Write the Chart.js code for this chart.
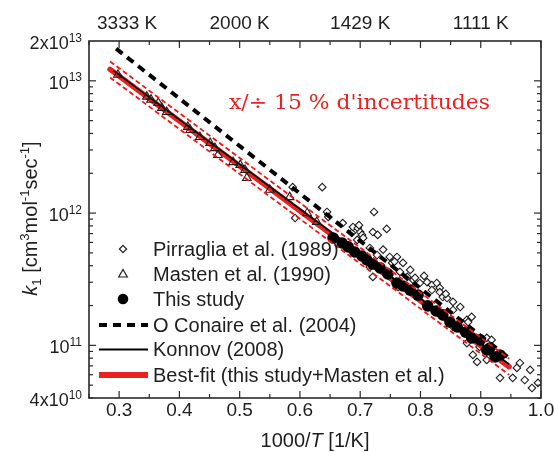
<!DOCTYPE html>
<html><head><meta charset="utf-8">
<script src="https://cdn.jsdelivr.net/npm/chart.js@4.4.0/dist/chart.umd.min.js"></script>
<style>html,body{margin:0;padding:0;background:#fff;overflow:hidden}</style>
</head><body>
<canvas id="c" width="554" height="452"></canvas>
<script>
// ---- data (x = 1000/T [1/K], k1 [cm3 mol-1 s-1]) ----
const pirragliaX = [0.588,0.592,0.637,0.645,0.647,0.671,0.686,0.688,0.695,0.696,0.698,0.700,0.703,0.705,0.716,0.716,0.721,0.721,0.723,0.728,0.729,0.744,0.749,0.753,0.761,0.763,0.766,0.771,0.778,0.783,0.788,0.791,0.799,0.811,0.819,0.819,0.827,0.832,0.832,0.837,0.844,0.854,0.854,0.854,0.877,0.877,0.879,0.885,0.887,0.894,0.898,0.910,0.910,0.918,0.920,0.932,0.937,0.953,0.960,0.965,0.973,0.982,0.985,0.995,0.738,0.757,0.806,0.842,0.866];
const pirragliaK = [1.57e12,9.18e11,1.57e12,1.02e12,9.35e11,8.41e11,7.08e11,7.85e11,6.27e11,7.71e11,8.1e11,7.19e11,6.84e11,6.49e11,5.45e11,3.92e11,7.19e11,3.29e11,1.02e12,4.82e11,6.84e11,7.59e11,4.66e11,4.20e11,4.66e11,2.76e11,3.59e11,4.20e11,3.29e11,3.72e11,3.12e11,3.24e11,2.96e11,3.01e11,2.86e11,2.62e11,2.96e11,2.72e11,2.53e11,2.32e11,2.28e11,2.13e11,1.85e11,1.38e11,1.56e11,1.04e11,1.50e11,1.64e11,8.47e10,7.50e10,9.73e10,1.14e11,7.76e10,1.10e11,8.47e10,5.68e10,8.47e10,5.68e10,6.75e10,7.36e10,5.47e10,6.52e10,4.76e10,5.20e10,5.3e11,4.3e11,3.35e11,2.45e11,1.95e11];

const mastenX = [0.298,0.346,0.353,0.365,0.371,0.379,0.414,0.418,0.434,0.451,0.459,0.464,0.489,0.501,0.509,0.512,0.550,0.583,0.612,0.628];
const mastenK = [1.11e13,7.59e12,7.2e12,6.80e12,6.24e12,5.81e12,4.48e12,4.25e12,3.76e12,3.39e12,3.10e12,2.75e12,2.43e12,2.31e12,2.12e12,1.84e12,1.50e12,1.32e12,1.00e12,8.57e11];

const studyX = [0.655,0.670,0.680,0.691,0.703,0.711,0.721,0.733,0.746,0.761,0.771,0.783,0.796,0.812,0.826,0.837,0.849,0.861,0.875,0.885,0.899,0.910,0.915,0.924,0.932];
const studyK = [6.49e11,5.94e11,5.55e11,5.08e11,4.74e11,4.43e11,4.12e11,3.85e11,3.47e11,2.96e11,2.81e11,2.62e11,2.40e11,1.99e11,1.82e11,1.70e11,1.50e11,1.38e11,1.26e11,1.14e11,1.10e11,9.23e10,9.55e10,8.17e10,8.45e10];

const oconaireX = [0.295, 0.950];
const oconaireK = [1.75e13, 7.8e10];
const konnovX = [0.290, 0.947];
const konnovK = [1.20e13, 7.2e10];
const bestFitX = [0.285, 0.947];
const bestFitK = [1.22e13, 6.9e10];
const bandUpperK = [1.40e13, 7.94e10];
const bandLowerK = [1.06e13, 6.00e10];

// ---- axes / labels ----
const xMajorTicks = [0.3,0.4,0.5,0.6,0.7,0.8,0.9,1.0];
const xMajorLabels = ['0.3','0.4','0.5','0.6','0.7','0.8','0.9','1.0'];
const xMinorTicks = [0.25,0.35,0.45,0.55,0.65,0.75,0.85,0.95];
const topLabelX = [0.3,0.5,0.7,0.9];
const topLabels = ['3333 K','2000 K','1429 K','1111 K'];
const yMajorTicks = [1e11,1e12,1e13];
const yMinorTicks = [4e10,5e10,6e10,7e10,8e10,9e10,2e11,3e11,4e11,5e11,6e11,7e11,8e11,9e11,2e12,3e12,4e12,5e12,6e12,7e12,8e12,9e12];
const yLabelValues = [2e13,1e13,1e12,1e11,4e10];
const yLabelBase = ['2x10','10','10','10','4x10'];
const yLabelExp = ['13','13','12','11','10'];
const legendLabels = ['Pirraglia et al. (1989)','Masten et al. (1990)','This study','O Conaire et al. (2004)','Konnov (2008)','Best-fit (this study+Masten et al.)'];
const noteText = 'x/\u00f7 15 % d\'incertitudes';

const pts = (xs, ys) => xs.map((x, i) => ({x: x, y: ys[i]}));
const RED = '#e8231f';
const INK = '#1e1e1e';
const SANS = '"Liberation Sans", Arial, sans-serif';

function lineDs(label, xs, ys, color, width, dash, order, cap) {
  return {label, data: pts(xs, ys), showLine: true, pointRadius: 0, borderColor: color,
    backgroundColor: color, borderWidth: width, borderDash: dash || [], fill: false,
    borderCapStyle: cap || 'butt', order};
}

const deco = {
  id: 'deco',
  afterDatasetsDraw(chart) {
    const {ctx, chartArea: a, scales: {x, y}} = chart;
    ctx.save();
    ctx.strokeStyle = '#2a2a2a';
    ctx.lineWidth = 1.2;
    const seg = (x1, y1, x2, y2) => { ctx.beginPath(); ctx.moveTo(x1, y1); ctx.lineTo(x2, y2); ctx.stroke(); };
    xMajorTicks.forEach(v => { const p = x.getPixelForValue(v); seg(p, a.bottom, p, a.bottom - 7); seg(p, a.top, p, a.top + 7); });
    xMinorTicks.forEach(v => { const p = x.getPixelForValue(v); seg(p, a.bottom, p, a.bottom - 4); seg(p, a.top, p, a.top + 4); });
    yMajorTicks.forEach(v => { const p = y.getPixelForValue(v); seg(a.left, p, a.left + 7, p); seg(a.right, p, a.right - 7, p); });
    yMinorTicks.forEach(v => { const p = y.getPixelForValue(v); seg(a.left, p, a.left + 4, p); seg(a.right, p, a.right - 4, p); });
    ctx.lineWidth = 1.6;
    ctx.strokeRect(a.left, a.top, a.right - a.left, a.bottom - a.top);

    ctx.fillStyle = INK;
    ctx.textBaseline = 'alphabetic';
    // bottom tick labels
    ctx.font = '19px ' + SANS; ctx.textAlign = 'center';
    xMajorTicks.forEach((v, i) => ctx.fillText(xMajorLabels[i], x.getPixelForValue(v), a.bottom + 18));
    // top labels
    topLabelX.forEach((v, i) => ctx.fillText(topLabels[i], x.getPixelForValue(v) + (i === 0 ? 8 : 0), a.top - 12));
    // y labels with superscripts
    ctx.textAlign = 'left';
    yLabelValues.forEach((v, i) => {
      const yc = y.getPixelForValue(v);
      const xr = a.left - 7;
      ctx.font = '12px ' + SANS; const ws = ctx.measureText(yLabelExp[i]).width;
      ctx.font = '18px ' + SANS; const wb = ctx.measureText(yLabelBase[i]).width;
      ctx.fillText(yLabelBase[i], xr - ws - wb, yc + 8);
      ctx.font = '12px ' + SANS; ctx.fillText(yLabelExp[i], xr - ws, yc + 0.5);
    });
    // x title
    const parts = [['1000/', '20px ' + SANS], ['T', 'italic 20px ' + SANS], [' [1/K]', '20px ' + SANS]];
    let tw = 0; parts.forEach(p => { ctx.font = p[1]; tw += ctx.measureText(p[0]).width; });
    let cx = (a.left + a.right) / 2 - tw / 2;
    parts.forEach(p => { ctx.font = p[1]; ctx.fillText(p[0], cx, 447); cx += ctx.measureText(p[0]).width; });
    // y title (rotated)
    const yp = [['k', 'italic 20px ' + SANS, 0], ['1', '13px ' + SANS, 4], [' [cm', '20px ' + SANS, 0], ['3', '13px ' + SANS, -8],
      ['mol', '20px ' + SANS, 0], ['-1', '13px ' + SANS, -8], ['sec', '20px ' + SANS, 0], ['-1', '13px ' + SANS, -8], [']', '20px ' + SANS, 0]];
    let yw = 0; yp.forEach(p => { ctx.font = p[1]; yw += ctx.measureText(p[0]).width; });
    ctx.save();
    ctx.translate(37, (a.top + a.bottom) / 2 - 1);
    ctx.rotate(-Math.PI / 2);
    let ox = -yw / 2;
    yp.forEach(p => { ctx.font = p[1]; ctx.fillText(p[0], ox, p[2]); ox += ctx.measureText(p[0]).width; });
    ctx.restore();

    // legend
    const lx = 153, rows = [249, 274, 299, 325, 349.5, 375];
    ctx.font = '20px ' + SANS; ctx.textBaseline = 'middle';
    legendLabels.forEach((t, i) => ctx.fillText(t, lx, rows[i] + 1));
    const sx = 123;
    ctx.lineWidth = 1.2; ctx.strokeStyle = INK;
    ctx.beginPath(); ctx.moveTo(sx, rows[0] - 3.6); ctx.lineTo(sx + 3.6, rows[0]); ctx.lineTo(sx, rows[0] + 3.6); ctx.lineTo(sx - 3.6, rows[0]); ctx.closePath(); ctx.stroke();
    ctx.beginPath(); ctx.moveTo(sx, rows[1] - 4.5); ctx.lineTo(sx + 4.3, rows[1] + 3); ctx.lineTo(sx - 4.3, rows[1] + 3); ctx.closePath(); ctx.stroke();
    ctx.fillStyle = '#000'; ctx.beginPath(); ctx.arc(sx, rows[2], 5.3, 0, Math.PI * 2); ctx.fill();
    ctx.strokeStyle = '#000';
    ctx.lineWidth = 4; ctx.setLineDash([8, 6]); seg(99, rows[3], 148, rows[3]);
    ctx.setLineDash([]); ctx.lineWidth = 2; seg(99, rows[4], 148, rows[4]);
    ctx.strokeStyle = RED; ctx.lineWidth = 6; seg(99, rows[5], 148, rows[5]);

    // red note
    ctx.fillStyle = RED; ctx.textBaseline = 'alphabetic';
    ctx.font = '21px "DejaVu Serif", serif';
    const nw = ctx.measureText(noteText).width;
    ctx.save(); ctx.translate(229, 109); ctx.scale(261 / nw, 1); ctx.fillText(noteText, 0, 0); ctx.restore();
    ctx.restore();
  }
};

new Chart(document.getElementById('c'), {
  type: 'scatter',
  data: {
    datasets: [
      {label: legendLabels[0], data: pts(pirragliaX, pirragliaK), pointStyle: 'rectRot', pointRadius: 3.8,
        borderColor: INK, backgroundColor: 'rgba(255,255,255,0.9)', borderWidth: 1.1, order: 8},
      lineDs(legendLabels[5], bestFitX, bestFitK, RED, 5.5, null, 7, 'round'),
      {label: legendLabels[2], data: pts(studyX, studyK), pointStyle: 'circle', pointRadius: 5.8,
        borderColor: '#000', backgroundColor: '#000', borderWidth: 0, order: 6},
      lineDs(legendLabels[4], konnovX, konnovK, '#000', 1.6, null, 5),
      {label: legendLabels[1], data: pts(mastenX, mastenK), pointStyle: 'triangle', pointRadius: 5,
        borderColor: INK, backgroundColor: 'rgba(255,255,255,0)', borderWidth: 1.1, order: 4},
      lineDs(legendLabels[3], oconaireX, oconaireK, '#000', 4, [8, 6], 3),
      lineDs('upper', bestFitX, bandUpperK, '#ff1010', 1.8, [5, 3], 2),
      lineDs('lower', bestFitX, bandLowerK, '#ff1010', 1.8, [5, 3], 1)
    ]
  },
  options: {
    responsive: false, animation: false, devicePixelRatio: 1,
    layout: {padding: {left: 89, right: 13, top: 41, bottom: 54}},
    scales: {
      x: {type: 'linear', min: 0.25, max: 1.0, display: false},
      y: {type: 'logarithmic', min: 4e10, max: 2e13, display: false}
    },
    plugins: {legend: {display: false}, tooltip: {enabled: false}}
  },
  plugins: [deco]
});
</script>
</body></html>
